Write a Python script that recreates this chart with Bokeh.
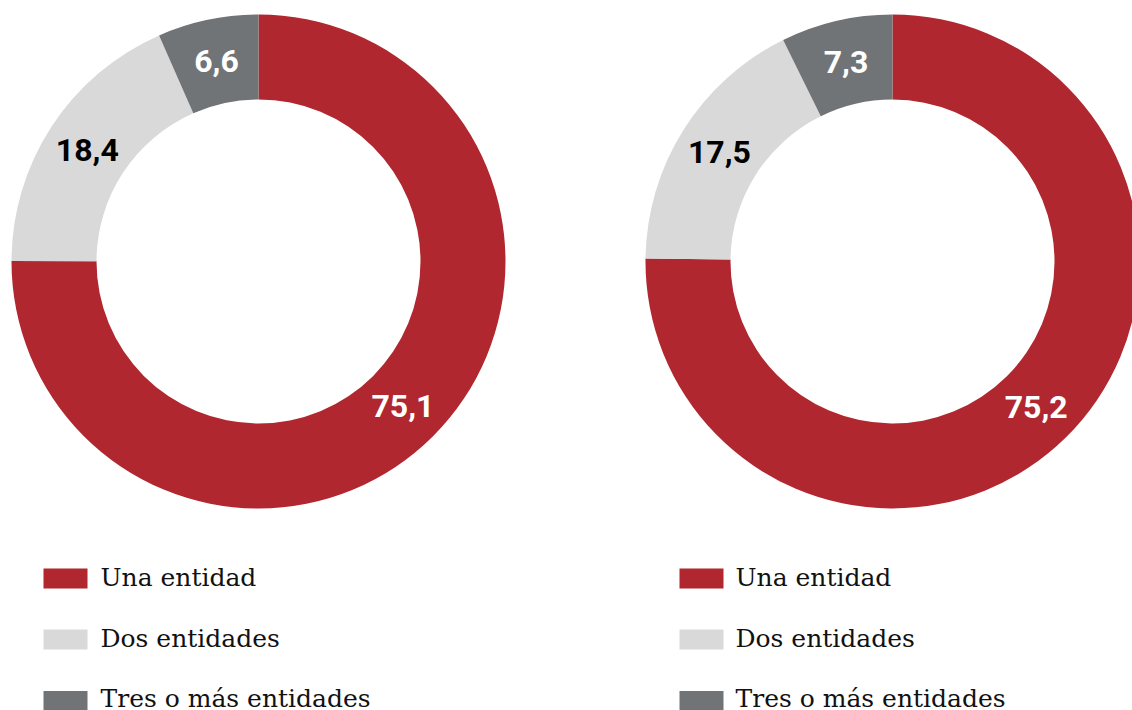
import math
from bokeh.plotting import figure
from bokeh.models import Range1d
from bokeh.core.properties import value
from bokeh.embed import file_html
from bokeh.resources import INLINE

categories = ["Una entidad", "Dos entidades", "Tres o más entidades"]
left_values = [75.1, 18.4, 6.6]
right_values = [75.2, 17.5, 7.3]
colors = ["#B0272F", "#D9D9D9", "#717477"]
label_colors = ["#FFFFFF", "#000000", "#FFFFFF"]

W, H = 1132, 710
p = figure(width=W, height=H, output_backend="svg", toolbar_location=None,
           x_range=Range1d(0, W), y_range=Range1d(0, H), min_border=0)
p.axis.visible = False
p.grid.visible = False
p.outline_line_color = None
p.background_fill_color = "white"
p.border_fill_color = "white"

R_OUT, R_IN = 247, 162
R_LAB = (R_OUT + R_IN) / 2


def donut(cx, cy, vals):
    total = sum(vals)
    cum = 0.0
    starts, ends, lx, ly, txt = [], [], [], [], []
    for v in vals:
        f0 = cum / total
        cum += v
        f1 = cum / total
        a0 = math.radians(90 - f0 * 360)
        a1 = math.radians(90 - f1 * 360)
        starts.append(a1)
        ends.append(a0)
        mid = (a0 + a1) / 2
        lx.append(cx + R_LAB * math.cos(mid))
        ly.append(cy + R_LAB * math.sin(mid))
        txt.append(("%.1f" % v).replace(".", ","))
    p.annular_wedge(x=[cx] * len(vals), y=[cy] * len(vals), inner_radius=R_IN,
                    outer_radius=R_OUT, start_angle=starts, end_angle=ends,
                    fill_color=colors, line_color=None, direction="anticlock")
    p.text(x=lx, y=ly, text=txt, text_color=label_colors, text_align="center",
           text_baseline="middle", text_font=value("Roboto"), text_font_size="32px",
           text_font_style="bold")


def legend(x0, tx, ys, bys):
    p.rect(x=[x0] * 3, y=ys, width=44, height=20, fill_color=colors, line_color=None)
    p.text(x=[tx] * 3, y=bys, text=categories, text_color="#111111", text_align="left",
           text_baseline="alphabetic", text_font=value("DejaVu Serif"),
           text_font_size="25px")


donut(258, 449, left_values)
donut(892, 449, right_values)

sq_y = [132, 71, 9.5]
base_y = [133, 72, 12]
legend(65, 100, sq_y, base_y)
legend(701, 735, sq_y, base_y)

open("out.html", "w").write(file_html(p, INLINE))
